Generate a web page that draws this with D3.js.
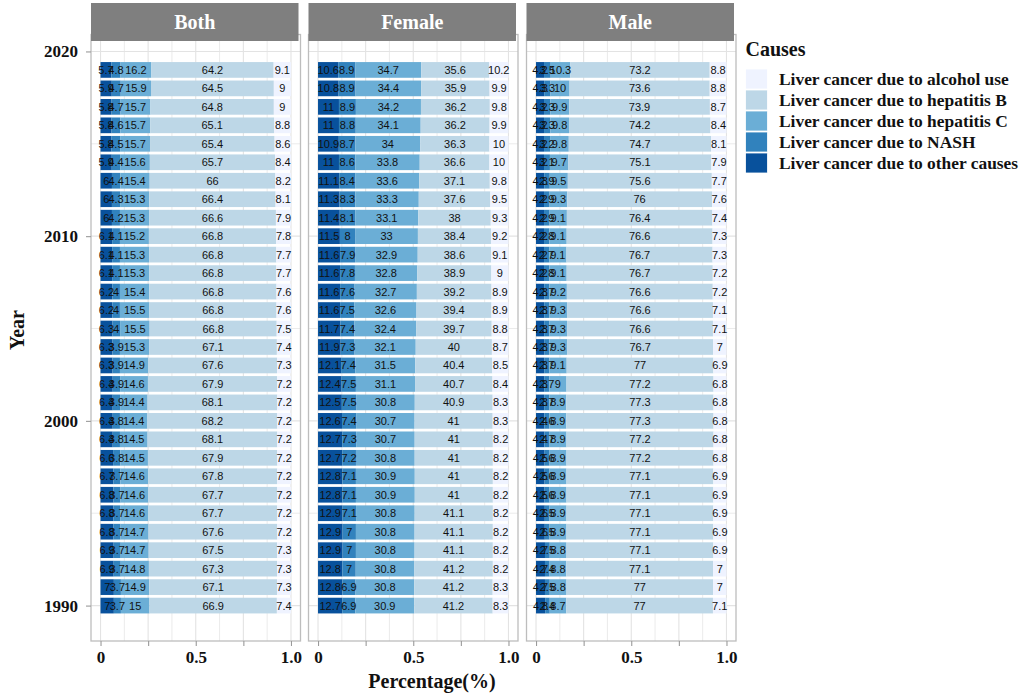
<!DOCTYPE html>
<html>
<head>
<meta charset="utf-8">
<script src="https://cdn.jsdelivr.net/npm/d3@7"></script>
<style>
body{margin:0;background:#fff;}
</style>
</head>
<body>
<svg id="chart" width="1021" height="696"></svg>
<script>
// rows are read top to bottom, i.e. 2019 first
var years = [2019, 2018, 2017, 2016, 2015, 2014, 2013, 2012, 2011, 2010,
	2009, 2008, 2007, 2006, 2005, 2004, 2003, 2002, 2001, 2000,
	1999, 1998, 1997, 1996, 1995, 1994, 1993, 1992, 1991, 1990];
var panels = ["Both", "Female", "Male"];
var causes = [
	"Liver cancer due to alcohol use",
	"Liver cancer due to hepatitis B",
	"Liver cancer due to hepatitis C",
	"Liver cancer due to NASH",
	"Liver cancer due to other causes"
];
var xTicks = [0, 0.25, 0.5, 0.75, 1];
var xTickLabels = ["0", "", "0.5", "", "1.0"];
var yTicks = [1990, 2000, 2010, 2020];

var bothAlcohol = [9.1, 9, 9, 8.8, 8.6, 8.4, 8.2, 8.1, 7.9, 7.8, 7.7, 7.7, 7.6, 7.6, 7.5, 7.4, 7.3, 7.2, 7.2, 7.2, 7.2, 7.2, 7.2, 7.2, 7.2, 7.2, 7.3, 7.3, 7.3, 7.4];
var bothHepB = [64.2, 64.5, 64.8, 65.1, 65.4, 65.7, 66, 66.4, 66.6, 66.8, 66.8, 66.8, 66.8, 66.8, 66.8, 67.1, 67.6, 67.9, 68.1, 68.2, 68.1, 67.9, 67.8, 67.7, 67.7, 67.6, 67.5, 67.3, 67.1, 66.9];
var bothHepC = [16.2, 15.9, 15.7, 15.7, 15.7, 15.6, 15.4, 15.3, 15.3, 15.2, 15.3, 15.3, 15.4, 15.5, 15.5, 15.3, 14.9, 14.6, 14.4, 14.4, 14.5, 14.5, 14.6, 14.6, 14.6, 14.7, 14.7, 14.8, 14.9, 15];
var bothNash = [4.8, 4.7, 4.7, 4.6, 4.5, 4.4, 4.4, 4.3, 4.2, 4.1, 4.1, 4.1, 4, 4, 4, 3.9, 3.9, 3.9, 3.9, 3.8, 3.8, 3.8, 3.7, 3.7, 3.7, 3.7, 3.7, 3.7, 3.7, 3.7];
var bothOther = [5.7, 5.9, 5.8, 5.8, 5.8, 5.9, 6, 6, 6, 6.1, 6.1, 6.1, 6.2, 6.2, 6.3, 6.3, 6.3, 6.4, 6.4, 6.4, 6.4, 6.6, 6.7, 6.8, 6.8, 6.8, 6.9, 6.9, 7, 7];

var femaleAlcohol = [10.2, 9.9, 9.8, 9.9, 10, 10, 9.8, 9.5, 9.3, 9.2, 9.1, 9, 8.9, 8.9, 8.8, 8.7, 8.5, 8.4, 8.3, 8.3, 8.2, 8.2, 8.2, 8.2, 8.2, 8.2, 8.2, 8.2, 8.3, 8.3];
var femaleHepB = [35.6, 35.9, 36.2, 36.2, 36.3, 36.6, 37.1, 37.6, 38, 38.4, 38.6, 38.9, 39.2, 39.4, 39.7, 40, 40.4, 40.7, 40.9, 41, 41, 41, 41, 41, 41.1, 41.1, 41.1, 41.2, 41.2, 41.2];
var femaleHepC = [34.7, 34.4, 34.2, 34.1, 34, 33.8, 33.6, 33.3, 33.1, 33, 32.9, 32.8, 32.7, 32.6, 32.4, 32.1, 31.5, 31.1, 30.8, 30.7, 30.7, 30.8, 30.9, 30.9, 30.8, 30.8, 30.8, 30.8, 30.8, 30.9];
var femaleNash = [8.9, 8.9, 8.9, 8.8, 8.7, 8.6, 8.4, 8.3, 8.1, 8, 7.9, 7.8, 7.6, 7.5, 7.4, 7.3, 7.4, 7.5, 7.5, 7.4, 7.3, 7.2, 7.1, 7.1, 7.1, 7, 7, 7, 6.9, 6.9];
var femaleOther = [10.6, 10.8, 11, 11, 10.9, 11, 11.1, 11.3, 11.4, 11.5, 11.6, 11.6, 11.6, 11.6, 11.7, 11.9, 12.1, 12.4, 12.5, 12.6, 12.7, 12.7, 12.8, 12.8, 12.9, 12.9, 12.9, 12.8, 12.8, 12.7];

var maleAlcohol = [8.8, 8.8, 8.7, 8.4, 8.1, 7.9, 7.7, 7.6, 7.4, 7.3, 7.3, 7.2, 7.2, 7.1, 7.1, 7, 6.9, 6.8, 6.8, 6.8, 6.8, 6.8, 6.9, 6.9, 6.9, 6.9, 6.9, 7, 7, 7.1];
var maleHepB = [73.2, 73.6, 73.9, 74.2, 74.7, 75.1, 75.6, 76, 76.4, 76.6, 76.7, 76.7, 76.6, 76.6, 76.6, 76.7, 77, 77.2, 77.3, 77.3, 77.2, 77.2, 77.1, 77.1, 77.1, 77.1, 77.1, 77.1, 77, 77];
var maleHepC = [10.3, 10, 9.9, 9.8, 9.8, 9.7, 9.5, 9.3, 9.1, 9.1, 9.1, 9.1, 9.2, 9.3, 9.3, 9.3, 9.1, 9, 8.9, 8.9, 8.9, 8.9, 8.9, 8.9, 8.9, 8.9, 8.8, 8.8, 8.8, 8.7];
var maleNash = [3.5, 3.3, 3.3, 3.3, 3.2, 3.1, 2.9, 2.9, 2.9, 2.8, 2.7, 2.8, 2.7, 2.7, 2.7, 2.7, 2.7, 2.7, 2.7, 2.6, 2.7, 2.6, 2.6, 2.6, 2.5, 2.5, 2.5, 2.4, 2.5, 2.4];
var maleOther = [4.2, 4.3, 4.2, 4.2, 4.2, 4.2, 4.3, 4.2, 4.2, 4.2, 4.2, 4.2, 4.3, 4.3, 4.3, 4.3, 4.3, 4.3, 4.3, 4.4, 4.4, 4.5, 4.5, 4.5, 4.6, 4.6, 4.7, 4.7, 4.7, 4.8];

var panelSeries = {
	"Both": [bothAlcohol, bothHepB, bothHepC, bothNash, bothOther],
	"Female": [femaleAlcohol, femaleHepB, femaleHepC, femaleNash, femaleOther],
	"Male": [maleAlcohol, maleHepB, maleHepC, maleNash, maleOther]
};

var SERIF = "'Liberation Serif','Times New Roman',serif";
var SANS = "'Liberation Sans',Arial,sans-serif";

var svg = d3.select("#chart");
var panelLeft = [91, 308.5, 526.5], panelW = 209.5;
var panelTop = 34.5, panelBot = 641;
var barWidth = 0.85;

var color = d3.scaleOrdinal().domain(causes).range(d3.schemeBlues[5]);
// ggplot stacks the first factor level last (rightmost)
var stackKeys = causes.slice().reverse();
var stack = d3.stack().keys(stackKeys).offset(d3.stackOffsetExpand);

var yLo = d3.min(years) - barWidth / 2, yHi = d3.max(years) + barWidth / 2;
var yPad = (yHi - yLo) * 0.05;
var y = d3.scaleLinear().domain([yLo - yPad, yHi + yPad]).range([panelBot, panelTop]);
var barH = Math.abs(y(0) - y(barWidth));

panels.forEach(function(name, pi){
	var x0 = panelLeft[pi];
	var x = d3.scaleLinear().domain([-0.05, 1.05]).range([x0, x0 + panelW]);
	var series = panelSeries[name];
	var rows = years.map(function(yr, i){
		var row = {year: yr};
		causes.forEach(function(c, ci){ row[c] = series[ci][i]; });
		return row;
	});
	var layers = stack(rows);

	var g = svg.append("g").attr("class", "panel " + name);
	g.append("rect").attr("x", x0).attr("y", panelTop).attr("width", panelW)
		.attr("height", panelBot - panelTop).attr("fill", "#fff");

	// grid
	var grid = g.append("g").attr("class", "grid");
	grid.selectAll("line.vx").data(d3.range(0, 1.0001, 0.125)).enter().append("line")
		.attr("x1", function(d){return x(d);}).attr("x2", function(d){return x(d);})
		.attr("y1", panelTop).attr("y2", panelBot)
		.attr("stroke", "#e3e3e3").attr("stroke-width", function(d, i){return i % 2 ? 0.7 : 1.1;});
	grid.selectAll("line.hy").data(y.ticks(7)).enter().append("line")
		.attr("x1", x0).attr("x2", x0 + panelW)
		.attr("y1", function(d){return y(d);}).attr("y2", function(d){return y(d);})
		.attr("stroke", "#e3e3e3").attr("stroke-width", function(d){return d % 10 ? 0.7 : 1.1;});

	// bars
	var layerG = g.selectAll("g.layer").data(layers).enter().append("g")
		.attr("class", "layer").attr("fill", function(d){return color(d.key);});
	layerG.selectAll("rect").data(function(d){return d;}).enter().append("rect")
		.attr("x", function(d){return x(d[0]);})
		.attr("width", function(d){return x(d[1]) - x(d[0]);})
		.attr("y", function(d){return y(d.data.year) - barH / 2;})
		.attr("height", barH);

	// value labels (they overlap on the thin segments, as in the original)
	var labelG = g.append("g").attr("class", "labels")
		.attr("font-family", SANS).attr("font-size", "11px").attr("fill", "#111")
		.attr("text-anchor", "middle");
	layers.forEach(function(layer){
		labelG.selectAll(null).data(layer).enter().append("text")
			.attr("x", function(d){return x((d[0] + d[1]) / 2);})
			.attr("y", function(d){return y(d.data.year) + 4;})
			.text(function(d){return String(d.data[layer.key]);});
	});

	// border
	g.append("rect").attr("x", x0).attr("y", panelTop).attr("width", panelW)
		.attr("height", panelBot - panelTop).attr("fill", "none")
		.attr("stroke", "#bdbdbd").attr("stroke-width", 1.3);

	// strip
	g.append("rect").attr("x", x0).attr("y", 3).attr("width", panelW - 2).attr("height", 38)
		.attr("fill", "#7f7f7f");
	g.append("text").attr("x", x0 + (panelW - 2) / 2).attr("y", 29)
		.attr("text-anchor", "middle").attr("font-family", SERIF).attr("font-weight", "bold")
		.attr("font-size", "20px").attr("fill", "#fff").text(name);

	// x axis
	var xAxis = d3.axisBottom(x).tickValues(xTicks).tickSize(5).tickPadding(5)
		.tickFormat(function(d, i){return xTickLabels[i];});
	var xg = g.append("g").attr("transform", "translate(0," + panelBot + ")").call(xAxis);
	xg.select(".domain").remove();
	xg.selectAll(".tick line").attr("stroke", "#9a9a9a").attr("stroke-width", 1.1);
	xg.selectAll(".tick text").attr("font-family", SERIF).attr("font-weight", "bold")
		.attr("font-size", "17px").attr("fill", "#111");

	if (pi === 0){
		var yAxis = d3.axisLeft(y).tickValues(yTicks).tickSize(5).tickPadding(8)
			.tickFormat(d3.format("d"));
		var yg = g.append("g").attr("transform", "translate(" + x0 + ",0)").call(yAxis);
		yg.select(".domain").remove();
		yg.selectAll(".tick line").attr("stroke", "#9a9a9a").attr("stroke-width", 1.1);
		yg.selectAll(".tick text").attr("font-family", SERIF).attr("font-weight", "bold")
			.attr("font-size", "17px").attr("fill", "#111");
	}
});

// axis titles
svg.append("text").attr("x", 432).attr("y", 688).attr("text-anchor", "middle")
	.attr("font-family", SERIF).attr("font-weight", "bold").attr("font-size", "20px")
	.attr("fill", "#111").text("Percentage(%)");
svg.append("text").attr("transform", "translate(24,330) rotate(-90)")
	.attr("text-anchor", "middle").attr("font-family", SERIF).attr("font-weight", "bold")
	.attr("font-size", "20px").attr("fill", "#111").text("Year");

// legend
var legend = svg.append("g").attr("transform", "translate(745.5,0)");
legend.append("text").attr("x", 0).attr("y", 56).attr("font-family", SERIF)
	.attr("font-weight", "bold").attr("font-size", "20px").attr("fill", "#111").text("Causes");
var item = legend.selectAll("g.item").data(causes).enter().append("g")
	.attr("class", "item")
	.attr("transform", function(d, i){return "translate(0," + (69 + i * 21) + ")";});
item.append("rect").attr("width", 22).attr("height", 20)
	.attr("fill", function(d){return color(d);}).attr("stroke", "#fff").attr("stroke-width", 0.8);
item.append("text").attr("x", 33.5).attr("y", 15.5).attr("font-family", SERIF)
	.attr("font-weight", "bold").attr("font-size", "17.4px").attr("fill", "#111")
	.text(function(d){return d;});
</script>
</body>
</html>
